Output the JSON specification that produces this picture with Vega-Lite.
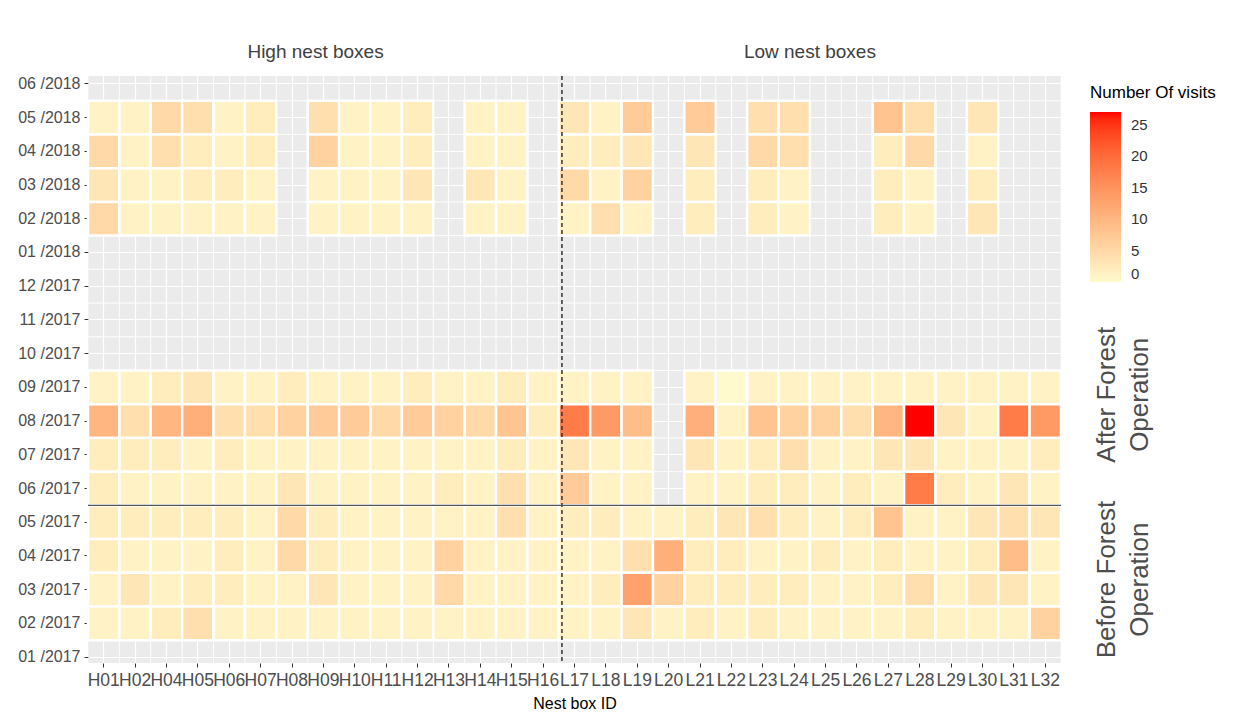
{
"$schema": "https://vega.github.io/schema/vega-lite/v6.json",
"width": 973, "height": 587,
"autosize": {"type": "none"},
"padding": {"left": 88, "top": 76, "right": 186, "bottom": 50},
"background": "white",
"config": {"view": {"fill": "#EBEBEB", "stroke": null}, "font": "Liberation Sans"},
"data": {"values": [
{"box":"H01","month":"05 /2018","visits":1},{"box":"H02","month":"05 /2018","visits":1},{"box":"H04","month":"05 /2018","visits":5},{"box":"H05","month":"05 /2018","visits":4},{"box":"H06","month":"05 /2018","visits":1},{"box":"H07","month":"05 /2018","visits":2},{"box":"H09","month":"05 /2018","visits":4},{"box":"H10","month":"05 /2018","visits":1},{"box":"H11","month":"05 /2018","visits":1},{"box":"H12","month":"05 /2018","visits":2},{"box":"H14","month":"05 /2018","visits":1},{"box":"H15","month":"05 /2018","visits":1},{"box":"L17","month":"05 /2018","visits":3},{"box":"L18","month":"05 /2018","visits":1},{"box":"L19","month":"05 /2018","visits":7},{"box":"L21","month":"05 /2018","visits":7},{"box":"L23","month":"05 /2018","visits":4},{"box":"L24","month":"05 /2018","visits":4},{"box":"L27","month":"05 /2018","visits":8},{"box":"L28","month":"05 /2018","visits":4},{"box":"L30","month":"05 /2018","visits":3},
{"box":"H01","month":"04 /2018","visits":5},{"box":"H02","month":"04 /2018","visits":1},{"box":"H04","month":"04 /2018","visits":4},{"box":"H05","month":"04 /2018","visits":2},{"box":"H06","month":"04 /2018","visits":1},{"box":"H07","month":"04 /2018","visits":2},{"box":"H09","month":"04 /2018","visits":6},{"box":"H10","month":"04 /2018","visits":1},{"box":"H11","month":"04 /2018","visits":1},{"box":"H12","month":"04 /2018","visits":2},{"box":"H14","month":"04 /2018","visits":1},{"box":"H15","month":"04 /2018","visits":1},{"box":"L17","month":"04 /2018","visits":2},{"box":"L18","month":"04 /2018","visits":2},{"box":"L19","month":"04 /2018","visits":3},{"box":"L21","month":"04 /2018","visits":3},{"box":"L23","month":"04 /2018","visits":5},{"box":"L24","month":"04 /2018","visits":4},{"box":"L27","month":"04 /2018","visits":2},{"box":"L28","month":"04 /2018","visits":5},{"box":"L30","month":"04 /2018","visits":1},
{"box":"H01","month":"03 /2018","visits":3},{"box":"H02","month":"03 /2018","visits":1},{"box":"H04","month":"03 /2018","visits":1},{"box":"H05","month":"03 /2018","visits":2},{"box":"H06","month":"03 /2018","visits":2},{"box":"H07","month":"03 /2018","visits":1},{"box":"H09","month":"03 /2018","visits":1},{"box":"H10","month":"03 /2018","visits":1},{"box":"H11","month":"03 /2018","visits":1},{"box":"H12","month":"03 /2018","visits":3},{"box":"H14","month":"03 /2018","visits":3},{"box":"H15","month":"03 /2018","visits":1},{"box":"L17","month":"03 /2018","visits":5},{"box":"L18","month":"03 /2018","visits":1},{"box":"L19","month":"03 /2018","visits":6},{"box":"L21","month":"03 /2018","visits":2},{"box":"L23","month":"03 /2018","visits":2},{"box":"L24","month":"03 /2018","visits":1},{"box":"L27","month":"03 /2018","visits":2},{"box":"L28","month":"03 /2018","visits":1},{"box":"L30","month":"03 /2018","visits":2},
{"box":"H01","month":"02 /2018","visits":5},{"box":"H02","month":"02 /2018","visits":1},{"box":"H04","month":"02 /2018","visits":1},{"box":"H05","month":"02 /2018","visits":1},{"box":"H06","month":"02 /2018","visits":1},{"box":"H07","month":"02 /2018","visits":1},{"box":"H09","month":"02 /2018","visits":1},{"box":"H10","month":"02 /2018","visits":1},{"box":"H11","month":"02 /2018","visits":1},{"box":"H12","month":"02 /2018","visits":1},{"box":"H14","month":"02 /2018","visits":1},{"box":"H15","month":"02 /2018","visits":1},{"box":"L17","month":"02 /2018","visits":1},{"box":"L18","month":"02 /2018","visits":4},{"box":"L19","month":"02 /2018","visits":1},{"box":"L21","month":"02 /2018","visits":2},{"box":"L23","month":"02 /2018","visits":2},{"box":"L24","month":"02 /2018","visits":1},{"box":"L27","month":"02 /2018","visits":2},{"box":"L28","month":"02 /2018","visits":1},{"box":"L30","month":"02 /2018","visits":3},
{"box":"H01","month":"09 /2017","visits":1},{"box":"H02","month":"09 /2017","visits":1},{"box":"H04","month":"09 /2017","visits":2},{"box":"H05","month":"09 /2017","visits":3},{"box":"H06","month":"09 /2017","visits":1},{"box":"H07","month":"09 /2017","visits":1},{"box":"H08","month":"09 /2017","visits":2},{"box":"H09","month":"09 /2017","visits":1},{"box":"H10","month":"09 /2017","visits":1},{"box":"H11","month":"09 /2017","visits":1},{"box":"H12","month":"09 /2017","visits":2},{"box":"H13","month":"09 /2017","visits":1},{"box":"H14","month":"09 /2017","visits":1},{"box":"H15","month":"09 /2017","visits":2},{"box":"H16","month":"09 /2017","visits":1},
{"box":"L17","month":"09 /2017","visits":1},{"box":"L18","month":"09 /2017","visits":1},{"box":"L19","month":"09 /2017","visits":1},{"box":"L21","month":"09 /2017","visits":1},{"box":"L22","month":"09 /2017","visits":0},{"box":"L23","month":"09 /2017","visits":1},{"box":"L24","month":"09 /2017","visits":1},{"box":"L25","month":"09 /2017","visits":1},{"box":"L26","month":"09 /2017","visits":1},{"box":"L27","month":"09 /2017","visits":1},{"box":"L28","month":"09 /2017","visits":1},{"box":"L29","month":"09 /2017","visits":1},{"box":"L30","month":"09 /2017","visits":1},{"box":"L31","month":"09 /2017","visits":1},{"box":"L32","month":"09 /2017","visits":1},
{"box":"H01","month":"08 /2017","visits":10},{"box":"H02","month":"08 /2017","visits":4},{"box":"H04","month":"08 /2017","visits":10},{"box":"H05","month":"08 /2017","visits":11},{"box":"H06","month":"08 /2017","visits":4},{"box":"H07","month":"08 /2017","visits":4},{"box":"H08","month":"08 /2017","visits":6},{"box":"H09","month":"08 /2017","visits":7},{"box":"H10","month":"08 /2017","visits":7},{"box":"H11","month":"08 /2017","visits":5},{"box":"H12","month":"08 /2017","visits":7},{"box":"H13","month":"08 /2017","visits":6},{"box":"H14","month":"08 /2017","visits":5},{"box":"H15","month":"08 /2017","visits":8},{"box":"H16","month":"08 /2017","visits":2},
{"box":"L17","month":"08 /2017","visits":18},{"box":"L18","month":"08 /2017","visits":14},{"box":"L19","month":"08 /2017","visits":9},{"box":"L21","month":"08 /2017","visits":11},{"box":"L22","month":"08 /2017","visits":1},{"box":"L23","month":"08 /2017","visits":8},{"box":"L24","month":"08 /2017","visits":6},{"box":"L25","month":"08 /2017","visits":6},{"box":"L26","month":"08 /2017","visits":4},{"box":"L27","month":"08 /2017","visits":10},{"box":"L28","month":"08 /2017","visits":27},{"box":"L29","month":"08 /2017","visits":3},{"box":"L30","month":"08 /2017","visits":1},{"box":"L31","month":"08 /2017","visits":18},{"box":"L32","month":"08 /2017","visits":14},
{"box":"H01","month":"07 /2017","visits":2},{"box":"H02","month":"07 /2017","visits":2},{"box":"H04","month":"07 /2017","visits":2},{"box":"H05","month":"07 /2017","visits":1},{"box":"H06","month":"07 /2017","visits":2},{"box":"H07","month":"07 /2017","visits":1},{"box":"H08","month":"07 /2017","visits":1},{"box":"H09","month":"07 /2017","visits":1},{"box":"H10","month":"07 /2017","visits":1},{"box":"H11","month":"07 /2017","visits":1},{"box":"H12","month":"07 /2017","visits":1},{"box":"H13","month":"07 /2017","visits":1},{"box":"H14","month":"07 /2017","visits":1},{"box":"H15","month":"07 /2017","visits":2},{"box":"H16","month":"07 /2017","visits":1},
{"box":"L17","month":"07 /2017","visits":3},{"box":"L18","month":"07 /2017","visits":1},{"box":"L19","month":"07 /2017","visits":1},{"box":"L21","month":"07 /2017","visits":3},{"box":"L22","month":"07 /2017","visits":1},{"box":"L23","month":"07 /2017","visits":2},{"box":"L24","month":"07 /2017","visits":4},{"box":"L25","month":"07 /2017","visits":1},{"box":"L26","month":"07 /2017","visits":1},{"box":"L27","month":"07 /2017","visits":3},{"box":"L28","month":"07 /2017","visits":3},{"box":"L29","month":"07 /2017","visits":1},{"box":"L30","month":"07 /2017","visits":1},{"box":"L31","month":"07 /2017","visits":1},{"box":"L32","month":"07 /2017","visits":2},
{"box":"H01","month":"06 /2017","visits":2},{"box":"H02","month":"06 /2017","visits":1},{"box":"H04","month":"06 /2017","visits":1},{"box":"H05","month":"06 /2017","visits":1},{"box":"H06","month":"06 /2017","visits":1},{"box":"H07","month":"06 /2017","visits":1},{"box":"H08","month":"06 /2017","visits":3},{"box":"H09","month":"06 /2017","visits":1},{"box":"H10","month":"06 /2017","visits":1},{"box":"H11","month":"06 /2017","visits":1},{"box":"H12","month":"06 /2017","visits":1},{"box":"H13","month":"06 /2017","visits":2},{"box":"H14","month":"06 /2017","visits":1},{"box":"H15","month":"06 /2017","visits":4},{"box":"H16","month":"06 /2017","visits":1},
{"box":"L17","month":"06 /2017","visits":7},{"box":"L18","month":"06 /2017","visits":1},{"box":"L19","month":"06 /2017","visits":1},{"box":"L21","month":"06 /2017","visits":1},{"box":"L22","month":"06 /2017","visits":1},{"box":"L23","month":"06 /2017","visits":2},{"box":"L24","month":"06 /2017","visits":2},{"box":"L25","month":"06 /2017","visits":1},{"box":"L26","month":"06 /2017","visits":2},{"box":"L27","month":"06 /2017","visits":1},{"box":"L28","month":"06 /2017","visits":18},{"box":"L29","month":"06 /2017","visits":2},{"box":"L30","month":"06 /2017","visits":1},{"box":"L31","month":"06 /2017","visits":3},{"box":"L32","month":"06 /2017","visits":1},
{"box":"H01","month":"05 /2017","visits":2},{"box":"H02","month":"05 /2017","visits":2},{"box":"H04","month":"05 /2017","visits":2},{"box":"H05","month":"05 /2017","visits":2},{"box":"H06","month":"05 /2017","visits":2},{"box":"H07","month":"05 /2017","visits":1},{"box":"H08","month":"05 /2017","visits":5},{"box":"H09","month":"05 /2017","visits":2},{"box":"H10","month":"05 /2017","visits":1},{"box":"H11","month":"05 /2017","visits":1},{"box":"H12","month":"05 /2017","visits":1},{"box":"H13","month":"05 /2017","visits":1},{"box":"H14","month":"05 /2017","visits":1},{"box":"H15","month":"05 /2017","visits":4},{"box":"H16","month":"05 /2017","visits":1},
{"box":"L17","month":"05 /2017","visits":2},{"box":"L18","month":"05 /2017","visits":2},{"box":"L19","month":"05 /2017","visits":1},{"box":"L20","month":"05 /2017","visits":1},{"box":"L21","month":"05 /2017","visits":2},{"box":"L22","month":"05 /2017","visits":3},{"box":"L23","month":"05 /2017","visits":4},{"box":"L24","month":"05 /2017","visits":2},{"box":"L25","month":"05 /2017","visits":1},{"box":"L26","month":"05 /2017","visits":2},{"box":"L27","month":"05 /2017","visits":8},{"box":"L28","month":"05 /2017","visits":1},{"box":"L29","month":"05 /2017","visits":1},{"box":"L30","month":"05 /2017","visits":3},{"box":"L31","month":"05 /2017","visits":4},{"box":"L32","month":"05 /2017","visits":3},
{"box":"H01","month":"04 /2017","visits":2},{"box":"H02","month":"04 /2017","visits":1},{"box":"H04","month":"04 /2017","visits":1},{"box":"H05","month":"04 /2017","visits":1},{"box":"H06","month":"04 /2017","visits":2},{"box":"H07","month":"04 /2017","visits":1},{"box":"H08","month":"04 /2017","visits":5},{"box":"H09","month":"04 /2017","visits":2},{"box":"H10","month":"04 /2017","visits":1},{"box":"H11","month":"04 /2017","visits":1},{"box":"H12","month":"04 /2017","visits":1},{"box":"H13","month":"04 /2017","visits":6},{"box":"H14","month":"04 /2017","visits":1},{"box":"H15","month":"04 /2017","visits":1},{"box":"H16","month":"04 /2017","visits":1},
{"box":"L17","month":"04 /2017","visits":1},{"box":"L18","month":"04 /2017","visits":1},{"box":"L19","month":"04 /2017","visits":4},{"box":"L20","month":"04 /2017","visits":11},{"box":"L21","month":"04 /2017","visits":2},{"box":"L22","month":"04 /2017","visits":2},{"box":"L23","month":"04 /2017","visits":1},{"box":"L24","month":"04 /2017","visits":1},{"box":"L25","month":"04 /2017","visits":2},{"box":"L26","month":"04 /2017","visits":1},{"box":"L27","month":"04 /2017","visits":2},{"box":"L28","month":"04 /2017","visits":1},{"box":"L29","month":"04 /2017","visits":1},{"box":"L30","month":"04 /2017","visits":2},{"box":"L31","month":"04 /2017","visits":9},{"box":"L32","month":"04 /2017","visits":1},
{"box":"H01","month":"03 /2017","visits":1},{"box":"H02","month":"03 /2017","visits":3},{"box":"H04","month":"03 /2017","visits":1},{"box":"H05","month":"03 /2017","visits":2},{"box":"H06","month":"03 /2017","visits":2},{"box":"H07","month":"03 /2017","visits":1},{"box":"H08","month":"03 /2017","visits":1},{"box":"H09","month":"03 /2017","visits":3},{"box":"H10","month":"03 /2017","visits":1},{"box":"H11","month":"03 /2017","visits":1},{"box":"H12","month":"03 /2017","visits":1},{"box":"H13","month":"03 /2017","visits":5},{"box":"H14","month":"03 /2017","visits":1},{"box":"H15","month":"03 /2017","visits":1},{"box":"H16","month":"03 /2017","visits":1},
{"box":"L17","month":"03 /2017","visits":1},{"box":"L18","month":"03 /2017","visits":2},{"box":"L19","month":"03 /2017","visits":13},{"box":"L20","month":"03 /2017","visits":6},{"box":"L21","month":"03 /2017","visits":2},{"box":"L22","month":"03 /2017","visits":2},{"box":"L23","month":"03 /2017","visits":2},{"box":"L24","month":"03 /2017","visits":2},{"box":"L25","month":"03 /2017","visits":1},{"box":"L26","month":"03 /2017","visits":1},{"box":"L27","month":"03 /2017","visits":2},{"box":"L28","month":"03 /2017","visits":4},{"box":"L29","month":"03 /2017","visits":1},{"box":"L30","month":"03 /2017","visits":3},{"box":"L31","month":"03 /2017","visits":3},{"box":"L32","month":"03 /2017","visits":1},
{"box":"H01","month":"02 /2017","visits":1},{"box":"H02","month":"02 /2017","visits":1},{"box":"H04","month":"02 /2017","visits":2},{"box":"H05","month":"02 /2017","visits":4},{"box":"H06","month":"02 /2017","visits":1},{"box":"H07","month":"02 /2017","visits":1},{"box":"H08","month":"02 /2017","visits":1},{"box":"H09","month":"02 /2017","visits":1},{"box":"H10","month":"02 /2017","visits":1},{"box":"H11","month":"02 /2017","visits":1},{"box":"H12","month":"02 /2017","visits":1},{"box":"H13","month":"02 /2017","visits":1},{"box":"H14","month":"02 /2017","visits":1},{"box":"H15","month":"02 /2017","visits":1},{"box":"H16","month":"02 /2017","visits":1},
{"box":"L17","month":"02 /2017","visits":1},{"box":"L18","month":"02 /2017","visits":1},{"box":"L19","month":"02 /2017","visits":3},{"box":"L20","month":"02 /2017","visits":1},{"box":"L21","month":"02 /2017","visits":2},{"box":"L22","month":"02 /2017","visits":1},{"box":"L23","month":"02 /2017","visits":2},{"box":"L24","month":"02 /2017","visits":1},{"box":"L25","month":"02 /2017","visits":1},{"box":"L26","month":"02 /2017","visits":1},{"box":"L27","month":"02 /2017","visits":1},{"box":"L28","month":"02 /2017","visits":2},{"box":"L29","month":"02 /2017","visits":1},{"box":"L30","month":"02 /2017","visits":1},{"box":"L31","month":"02 /2017","visits":1},{"box":"L32","month":"02 /2017","visits":6}
]},
"layer": [
{
"data": {"values": [{"box": ["H01","H02","H04","H05","H06","H07","H08","H09","H10","H11","H12","H13","H14","H15","H16","L17","L18","L19","L20","L21","L22","L23","L24","L25","L26","L27","L28","L29","L30","L31","L32"], "month": ["06 /2018","05 /2018","04 /2018","03 /2018","02 /2018","01 /2018","12 /2017","11 /2017","10 /2017","09 /2017","08 /2017","07 /2017","06 /2017","05 /2017","04 /2017","03 /2017","02 /2017","01 /2017"]}]},
"transform": [{"flatten": ["box"]}, {"flatten": ["month"]}],
"mark": {"type": "rect", "fill": null, "fillOpacity": 0, "stroke": "white", "strokeWidth": 0.6, "clip": true},
"encoding": {
"x": {"field": "box", "type": "nominal",
"scale": {"domain": ["H01","H02","H04","H05","H06","H07","H08","H09","H10","H11","H12","H13","H14","H15","H16","L17","L18","L19","L20","L21","L22","L23","L24","L25","L26","L27","L28","L29","L30","L31","L32"], "paddingInner": 0, "paddingOuter": 0},
"axis": {"orient": "bottom", "title": "Nest box ID", "titleFontSize": 16, "titleFontWeight": "normal", "titleColor": "#000000", "titlePadding": 7, "labelAngle": 0, "labelAlign": "center", "labelBaseline": "top", "labelFontSize": 17.5, "labelColor": "#4D4D4D", "labelPadding": 4, "tickColor": "#333333", "tickSize": 4, "tickBand": "center", "domain": false, "grid": true, "gridColor": "white", "gridWidth": 1.2, "bandPosition": 0.5, "labelOverlap": false, "zindex": 0}},
"y": {"field": "month", "type": "nominal",
"scale": {"domain": ["06 /2018","05 /2018","04 /2018","03 /2018","02 /2018","01 /2018","12 /2017","11 /2017","10 /2017","09 /2017","08 /2017","07 /2017","06 /2017","05 /2017","04 /2017","03 /2017","02 /2017","01 /2017"], "paddingInner": 0, "paddingOuter": 0, "range": [-9, 598]},
"axis": {"orient": "left", "title": null, "labelFontSize": 16, "labelColor": "#4D4D4D", "labelPadding": 4, "tickColor": "#333333", "tickSize": 4, "tickBand": "center", "domain": false, "grid": true, "gridColor": "white", "gridWidth": 1.2, "bandPosition": 0.5, "labelOverlap": false, "zindex": 0}}
}
},
{
"mark": {"type": "rect", "stroke": "white", "strokeWidth": 2.5},
"encoding": {
"x": {"field": "box", "type": "nominal"},
"y": {"field": "month", "type": "nominal"},
"color": {"field": "visits", "type": "quantitative",
"scale": {"domain": [0, 27], "range": ["#FFFACD", "#FF0000"], "interpolate": "lab"},
"legend": {"title": "Number Of visits", "orient": "none", "legendX": 1002, "legendY": 9, "titleFontSize": 17, "titleFontWeight": "normal", "titleColor": "#000000", "titlePadding": 10, "gradientLength": 170, "gradientThickness": 31, "gradientStrokeWidth": 0, "labelFontSize": 15, "labelColor": "#333333", "labelOffset": 10, "values": [0, 5, 10, 15, 20, 25], "labelBaseline": "middle"}}
}
},
{
"data": {"values": [{}]},
"mark": {"type": "rule", "color": "#333333", "strokeWidth": 1.5, "strokeDash": [4, 3]},
"encoding": {"x": {"datum": "L17", "type": "nominal", "bandPosition": 0.1}}
},
{
"data": {"values": [{}]},
"mark": {"type": "rule", "color": "#555555", "strokeWidth": 1.3},
"encoding": {"y": {"datum": "06 /2017", "type": "nominal", "bandPosition": 1}}
},
{
"data": {"values": [{}]},
"mark": {"type": "text", "fontSize": 19, "color": "#404040", "align": "center", "baseline": "middle", "dy": -15, "text": "High nest boxes"},
"encoding": {"x": {"datum": "H09", "type": "nominal", "bandPosition": 0.25}, "y": {"datum": "06 /2018", "type": "nominal", "bandPosition": 0}}
},
{
"data": {"values": [{}]},
"mark": {"type": "text", "fontSize": 19, "color": "#404040", "align": "center", "baseline": "middle", "dy": -15, "text": "Low nest boxes"},
"encoding": {"x": {"datum": "L25", "type": "nominal", "bandPosition": 0}, "y": {"datum": "06 /2018", "type": "nominal", "bandPosition": 0}}
},
{
"data": {"values": [{}]},
"mark": {"type": "text", "fontSize": 26, "color": "#4D4D4D", "align": "center", "baseline": "middle", "angle": 270, "dy": 46, "lineHeight": 33, "text": ["After Forest", "Operation"]},
"encoding": {"x": {"datum": "L32", "type": "nominal", "bandPosition": 1}, "y": {"datum": "09 /2017", "type": "nominal", "bandPosition": 0.72}}
},
{
"data": {"values": [{}]},
"mark": {"type": "text", "fontSize": 26, "color": "#4D4D4D", "align": "center", "baseline": "middle", "angle": 270, "dy": 46, "lineHeight": 33, "text": ["Before Forest", "Operation"]},
"encoding": {"x": {"datum": "L32", "type": "nominal", "bandPosition": 1}, "y": {"datum": "03 /2017", "type": "nominal", "bandPosition": 0.2}}
}
]
}
